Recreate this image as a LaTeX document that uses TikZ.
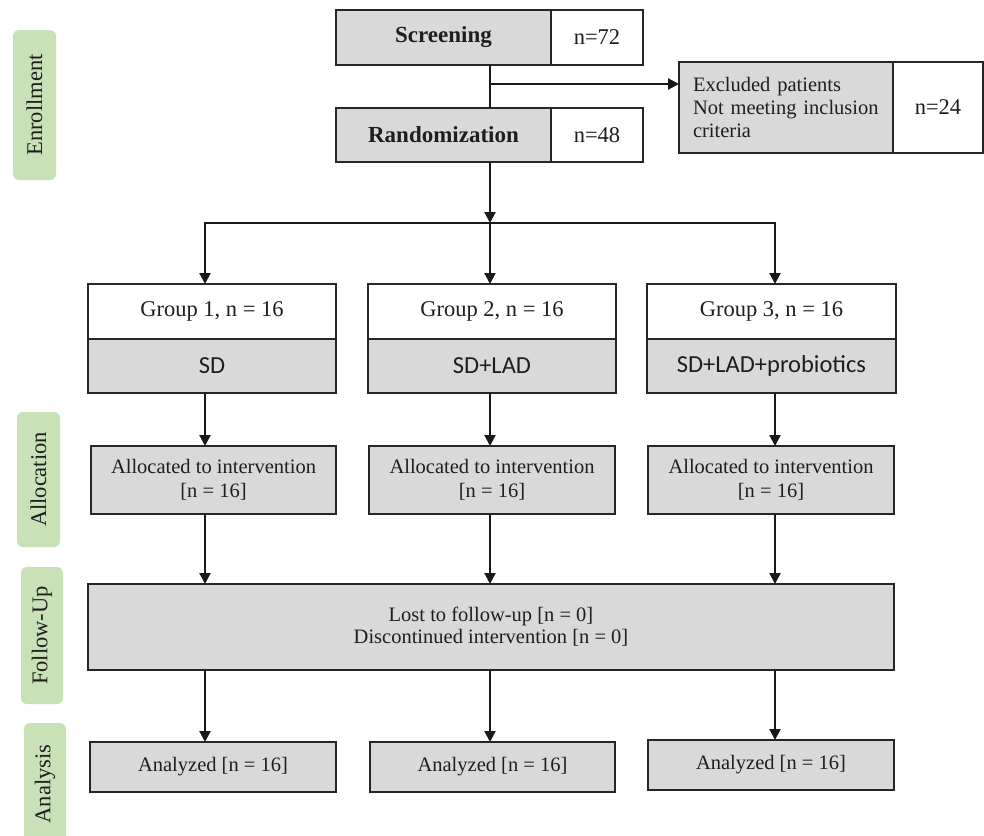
\documentclass[tikz,border=0pt]{standalone}
\usepackage{fontspec}
\setmainfont{Liberation Serif}
\newfontfamily\sdfont{Carlito}
\usetikzlibrary{arrows.meta}
\definecolor{boxgray}{HTML}{D9D9D9}
\definecolor{boxline}{HTML}{262626}
\definecolor{phasegreen}{HTML}{C8E1B6}
\definecolor{textc}{HTML}{1E1E1E}
\begin{document}
\begin{tikzpicture}[x=1pt,y=-1pt]
\tikzset{
  graybox/.style={draw=boxline, fill=boxgray, line width=2.2pt, inner sep=0pt, outer sep=0pt,
    text=textc, align=center, font=\fontsize{20.5}{24}\selectfont},
  whitebox/.style={graybox, fill=white},
  phase/.style={fill=phasegreen, rounded corners=6pt, inner sep=0pt, rotate=90,
    text=textc, font=\fontsize{22.5}{24}\selectfont},
  arr/.style={-{Triangle[length=11pt,width=11pt]}, line width=2.2pt, draw=black!90},
  ln/.style={line width=2.2pt, draw=black!90},
  bigtxt/.style={font=\fontsize{22.5}{24}\selectfont},
  boldtxt/.style={font=\fontsize{23}{24}\selectfont\bfseries},
  sdtxt/.style={font=\fontsize{24.5}{26}\sdfont}
}
\useasboundingbox[fill=white] (0,0) rectangle (984,835);

% phase labels
\node[phase, minimum width=150pt, minimum height=43pt] (penr) at (34.5,105) {Enrollment};
\node[phase, minimum width=135pt, minimum height=43pt] (palloc) at (38.5,479.5) {Allocation};
\node[phase, minimum width=137pt, minimum height=42pt] (pfol) at (42,635.5) {Follow-Up};
\node[phase, minimum width=122pt, minimum height=42pt] (pana) at (45,784) {Analysis};

% enrollment
\node[graybox, boldtxt, minimum width=215pt, minimum height=55pt] (scr) at (443.5,37.5) {Screening};
\node[whitebox, bigtxt, minimum width=92pt, minimum height=55pt] (scrn) at (597,37.5) {n=72};
\node[graybox, boldtxt, minimum width=215pt, minimum height=54pt] (ran) at (443.5,135) {Randomization};
\node[whitebox, bigtxt, minimum width=92pt, minimum height=54pt] (rann) at (597,135) {n=48};
\node[graybox, minimum width=214pt, minimum height=91pt, align=left, text width=186pt,
  font=\fontsize{20.5}{23}\selectfont] (exc) at (786,107.5) {Excluded patients\\Not meeting inclusion\\criteria};
\node[whitebox, bigtxt, minimum width=90pt, minimum height=91pt] (excn) at (938,107.5) {n=24};

% column coordinates
\coordinate (br) at (490,84);
\coordinate (split) at (490,223);
\coordinate (c1) at (205,223);
\coordinate (c2) at (490,223);
\coordinate (c3) at (775,223);

% groups
\node[whitebox, bigtxt, minimum width=248pt, minimum height=55pt] (g1t) at (212,311.5) {Group 1, n = 16};
\node[graybox, sdtxt, minimum width=248pt, minimum height=54pt] (g1b) at (212,366) {SD};
\node[whitebox, bigtxt, minimum width=248pt, minimum height=55pt] (g2t) at (492,311.5) {Group 2, n = 16};
\node[graybox, sdtxt, minimum width=248pt, minimum height=54pt] (g2b) at (492,366) {SD+LAD};
\node[whitebox, bigtxt, minimum width=249pt, minimum height=55pt] (g3t) at (771.5,311.5) {Group 3, n = 16};
\node[graybox, sdtxt, minimum width=249pt, minimum height=54pt] (g3b) at (771.5,366) {SD+LAD+probiotics};

% allocation
\node[graybox, minimum width=245pt, minimum height=68pt] (al1) at (213.5,480) {Allocated to intervention\\{}[n = 16]};
\node[graybox, minimum width=246pt, minimum height=68pt] (al2) at (492,480) {Allocated to intervention\\{}[n = 16]};
\node[graybox, minimum width=246pt, minimum height=68pt] (al3) at (771,480) {Allocated to intervention\\{}[n = 16]};

% follow-up
\node[graybox, minimum width=806pt, minimum height=86pt, font=\fontsize{20.5}{22}\selectfont] (fol) at (491,627) {Lost to follow-up [n = 0]\\Discontinued intervention [n = 0]};

% analysis
\node[graybox, minimum width=246pt, minimum height=50pt] (an1) at (213,767) {Analyzed [n = 16]};
\node[graybox, minimum width=245pt, minimum height=50pt] (an2) at (492.5,767) {Analyzed [n = 16]};
\node[graybox, minimum width=246pt, minimum height=50pt] (an3) at (771,765) {Analyzed [n = 16]};

% connectors
\draw[ln] (scr.south -| br) -- (ran.north -| br);
\draw[arr] (br) -- (br -| exc.west);
\draw[arr] (ran.south -| split) -- (split);
\draw[ln, line cap=rect] (c1) -- (c3);
\draw[arr] (c1) -- (c1 |- g1t.north);
\draw[arr] (c2) -- (c2 |- g2t.north);
\draw[arr] (c3) -- (c3 |- g3t.north);
\draw[arr] (c1 |- g1b.south) -- (c1 |- al1.north);
\draw[arr] (c2 |- g2b.south) -- (c2 |- al2.north);
\draw[arr] (c3 |- g3b.south) -- (c3 |- al3.north);
\draw[arr] (c1 |- al1.south) -- (c1 |- fol.north);
\draw[arr] (c2 |- al2.south) -- (c2 |- fol.north);
\draw[arr] (c3 |- al3.south) -- (c3 |- fol.north);
\draw[arr] (c1 |- fol.south) -- (c1 |- an1.north);
\draw[arr] (c2 |- fol.south) -- (c2 |- an2.north);
\draw[arr] (c3 |- fol.south) -- (c3 |- an3.north);
\end{tikzpicture}
\end{document}
